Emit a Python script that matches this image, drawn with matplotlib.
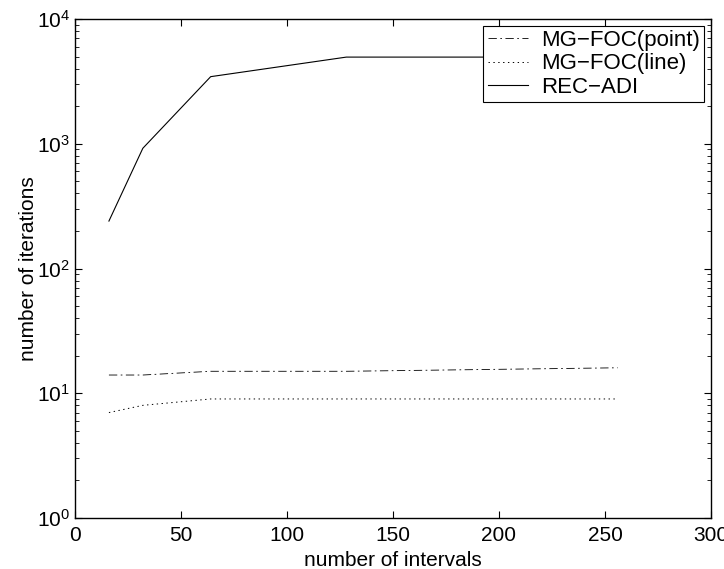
import matplotlib
matplotlib.use('Agg')
import matplotlib.pyplot as plt

plt.rcParams['font.family'] = ['Liberation Sans', 'DejaVu Sans']
plt.rcParams['lines.scale_dashes'] = False

# data
intervals = [16, 32, 64, 128, 256]
mg_point = [14, 14, 15, 15, 16]
mg_line = [7, 8, 9, 9, 9]
rec_adi = [240, 920, 3450, 4950, 4950]

fig = plt.figure(figsize=(7.24, 5.69), dpi=100)
ax = fig.add_axes([75 / 724, 1 - 518 / 569, (711 - 75) / 724, (518 - 19) / 569])

ax.semilogy(intervals, mg_point, color='black', linestyle=(0, (6, 2.5, 1.2, 2.5)), linewidth=0.6, label='MG\u2212FOC(point)')
ax.semilogy(intervals, mg_line, color='black', linestyle=(0, (1, 2.5)), linewidth=0.7, label='MG\u2212FOC(line)')
ax.semilogy(intervals, rec_adi, color='black', linestyle='-', linewidth=0.8, label='REC\u2212ADI')

ax.set_xlim(0, 300)
ax.set_ylim(1, 1e4)
ax.set_xlabel('number of intervals', fontsize=15, labelpad=4)
ax.set_ylabel('number of iterations', fontsize=15, labelpad=-1)
ax.tick_params(which='both', direction='in', top=True, right=True, labelsize=15)
ax.tick_params(axis='x', pad=6)
ax.tick_params(which='major', length=5)
ax.tick_params(which='minor', length=3)
for s in ax.spines.values():
    s.set_linewidth(1.0)

leg = ax.legend(loc='upper right', fontsize=16, handlelength=1.8, borderpad=0.2,
                labelspacing=0.1, handletextpad=0.6, fancybox=False, framealpha=1,
                borderaxespad=0.3)
leg.get_frame().set_edgecolor('black')
leg.get_frame().set_linewidth(0.8)

fig.savefig('out.png', dpi=100)
